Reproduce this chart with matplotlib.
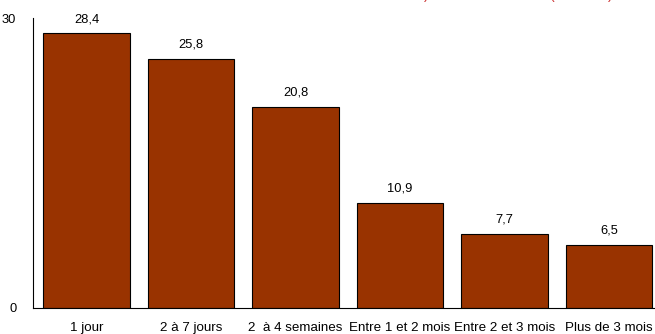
import matplotlib.pyplot as plt

categories = ["1 jour", "2 à 7 jours", "2  à 4 semaines", "Entre 1 et 2 mois",
              "Entre 2 et 3 mois", "Plus de 3 mois"]
values = [28.4, 25.8, 20.8, 10.9, 7.7, 6.5]
value_labels = ["28,4", "25,8", "20,8", "10,9", "7,7", "6,5"]


def main():
    plt.rcParams['font.family'] = ['Liberation Sans', 'DejaVu Sans']
    fig = plt.figure(figsize=(6.55, 3.34), dpi=100)
    ax = fig.add_axes([33 / 655, 26 / 334, 1 - 33 / 655, 290 / 334])

    x = range(len(categories))
    ax.bar(x, values, width=0.83, color="#993300", edgecolor="black", linewidth=0.8)
    for i, (v, lab) in enumerate(zip(values, value_labels)):
        ax.annotate(lab, (i, v), xytext=(0, 6), textcoords="offset points",
                    ha="center", va="bottom", fontsize=9.3)

    ax.set_xlim(-0.512, 5.44)
    ax.set_ylim(0, 30)
    ax.set_yticks([0, 30])
    ax.set_yticklabels(["0", "30"], fontsize=9.3)
    ax.set_xticks(list(x))
    ax.set_xticklabels(categories, fontsize=9.6)
    ax.tick_params(axis="both", length=0)
    ax.tick_params(axis="y", pad=12)
    ax.tick_params(axis="x", pad=10)
    ax.spines["top"].set_visible(False)
    ax.spines["right"].set_visible(False)

    # cropped red title: only the tails of its brackets stay inside the frame
    for px, ch in [(426, ")"), (552, "("), (610, ")")]:
        fig.text(px / 655, 1 + 1.2 / 334, ch, color="#cc3333",
                 fontsize=10, ha="center", va="baseline")

    fig.savefig("out.png", dpi=100)


if __name__ == '__main__':
    main()
